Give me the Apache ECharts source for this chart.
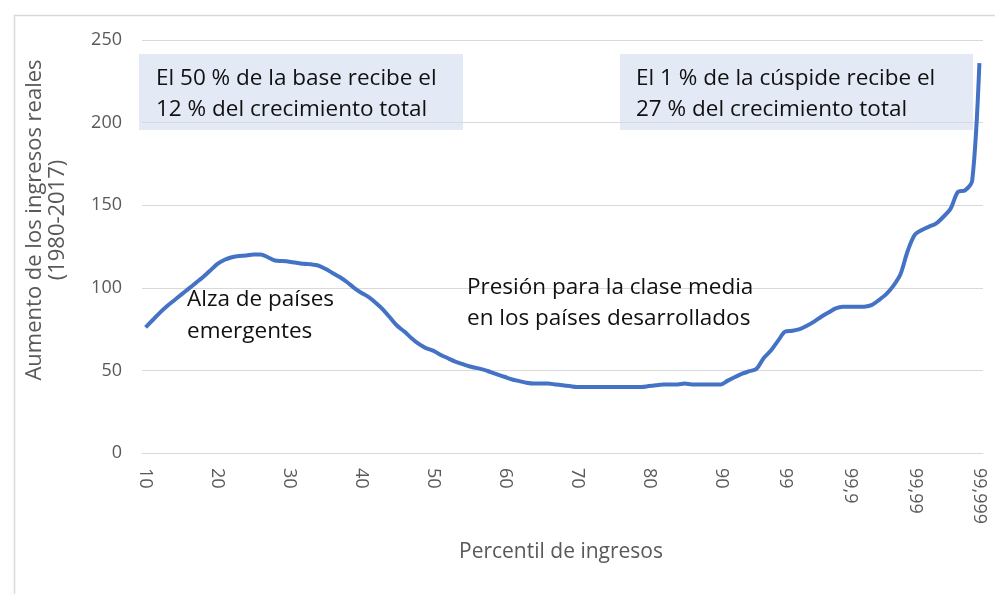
<!DOCTYPE html>
<html>
<head>
<meta charset="utf-8">
<script src="https://cdn.jsdelivr.net/npm/echarts@6/dist/echarts.min.js"></script>
<style>
html,body{margin:0;padding:0;background:#fff;}
#chart{width:995px;height:594px;}
</style>
</head>
<body>
<div id="chart"></div>
<script>
// Categories: percentiles 10..99, then 99,1..99,9, 99,91..99,99, 99,991..99,999
var categories = [
  "10","11","12","13","14","15","16","17","18","19",
  "20","21","22","23","24","25","26","27","28","29",
  "30","31","32","33","34","35","36","37","38","39",
  "40","41","42","43","44","45","46","47","48","49",
  "50","51","52","53","54","55","56","57","58","59",
  "60","61","62","63","64","65","66","67","68","69",
  "70","71","72","73","74","75","76","77","78","79",
  "80","81","82","83","84","85","86","87","88","89",
  "90","91","92","93","94","95","96","97","98","99",
  "99,1","99,2","99,3","99,4","99,5","99,6","99,7","99,8","99,9",
  "99,91","99,92","99,93","99,94","99,95","99,96","99,97","99,98","99,99",
  "99,991","99,992","99,993","99,994","99,995","99,996","99,997","99,998","99,999"
];

// Real income growth 1980-2017 (%)
var growth = [
  76, 80.5, 85, 89, 92.5, 96, 99.5, 103, 106.5, 110.5,
  114.5, 117, 118.5, 119.3, 119.5, 120.2, 120.2, 118.5, 116.5, 116.2,
  115.8, 115.2, 114.5, 114.2, 113.5, 111.5, 109, 106.5, 103.5, 100,
  97, 94.5, 91, 87, 82, 77, 73.5, 69.5, 66, 63.5,
  62, 59.5, 57.5, 55.5, 54, 52.5, 51.5, 50.5, 49, 47.5,
  46, 44.5, 43.5, 42.5, 42, 42, 42, 41.5, 41, 40.5,
  40, 40, 40, 40, 40, 40, 40, 40, 40, 40,
  40.5, 41, 41.5, 41.5, 41.5, 42, 41.5, 41.5, 41.5, 41.5,
  41.5, 43.8, 46, 48, 49.5, 51, 57.5, 62, 68, 73.5,
  74, 75, 77, 79.5, 82.5, 85, 87.5, 88.5, 88.5,
  88.5, 88.6, 89.5, 92.5, 96, 101, 108, 122, 132,
  135, 137, 139, 143, 148, 158, 159, 165, 236
];

// Tick labels shown on the x axis
var xTickLabels = ["10","20","30","40","50","60","70","80","90","99","99,9","99,99","99,999"];

var yTicks = [0, 50, 100, 150, 200, 250];

var yAxisTitle = ["Aumento de los ingresos reales", "(1980-2017)"];
var xAxisTitle = "Percentil de ingresos";

var noteLeft = ["El 50 % de la base recibe el", "12 % del crecimiento total"];
var noteRight = ["El 1 % de la cúspide recibe el", "27 % del crecimiento total"];
var noteEmerging = ["Alza de países", "emergentes"];
var noteMiddle = ["Presión para la clase media", "en los países desarrollados"];

var FONT = "Open Sans";
var GRAY = "#595959";

var chart = echarts.init(document.getElementById('chart'), null, {renderer: 'canvas'});

var option = {
  animation: false,
  backgroundColor: '#ffffff',
  grid: {left: 142, right: 12, top: 40, bottom: 141, containLabel: false},
  xAxis: {
    type: 'category',
    data: categories,
    boundaryGap: true,
    axisLine: {show: true, lineStyle: {color: '#D9D9D9', width: 1}},
    axisTick: {show: false},
    splitLine: {show: false},
    axisLabel: {
      rotate: -90,
      margin: 15,
      color: GRAY,
      fontFamily: FONT,
      fontSize: 18,
      interval: function (idx, val) { return xTickLabels.indexOf(val) >= 0; }
    }
  },
  yAxis: {
    type: 'value',
    min: yTicks[0],
    max: yTicks[yTicks.length - 1],
    interval: 50,
    axisLine: {show: false},
    axisTick: {show: false},
    splitLine: {lineStyle: {color: '#D9D9D9', width: 1}},
    axisLabel: {margin: 20, color: GRAY, fontFamily: FONT, fontSize: 18}
  },
  series: [{
    type: 'line',
    data: growth,
    showSymbol: false,
    smooth: 0.3,
    lineStyle: {color: '#4472C4', width: 4},
    z: 5
  }],
  graphic: [
    {type: 'rect', left: 12, top: 13, z: -20, silent: true,
      shape: {x: 0, y: 0, width: 1000, height: 620},
      style: {fill: 'none', stroke: '#D9D9D9', lineWidth: 1.5}},
    {type: 'rect', z: -10, silent: true,
      shape: {x: 139, y: 54, width: 324, height: 76},
      style: {fill: '#E3E9F5'}},
    {type: 'rect', z: -10, silent: true,
      shape: {x: 620, y: 54, width: 353, height: 76},
      style: {fill: '#E3E9F5'}},
    {type: 'text', z: 10, silent: true, left: 156, top: 63,
      style: {text: noteLeft.join('\n'), fontFamily: FONT, fontSize: 22.5, lineHeight: 31, fill: '#111'}},
    {type: 'text', z: 10, silent: true, left: 636, top: 63,
      style: {text: noteRight.join('\n'), fontFamily: FONT, fontSize: 22.5, lineHeight: 31, fill: '#111'}},
    {type: 'text', z: 10, silent: true, left: 187, top: 284,
      style: {text: noteEmerging.join('\n'), fontFamily: FONT, fontSize: 22.5, lineHeight: 32, fill: '#111'}},
    {type: 'text', z: 10, silent: true, left: 467, top: 272,
      style: {text: noteMiddle.join('\n'), fontFamily: FONT, fontSize: 22.5, lineHeight: 31, fill: '#111'}},
    {type: 'text', z: 10, silent: true, x: 46, y: 220, rotation: Math.PI / 2,
      style: {text: yAxisTitle.join('\n'), fontFamily: FONT, fontSize: 22, lineHeight: 23, fill: GRAY, textAlign: 'center', textVerticalAlign: 'middle'}},
    {type: 'text', z: 10, silent: true, x: 561, y: 552,
      style: {text: xAxisTitle, fontFamily: FONT, fontSize: 21, fill: GRAY, textAlign: 'center', textVerticalAlign: 'middle'}}
  ]
};
chart.setOption(option);
</script>
</body>
</html>
